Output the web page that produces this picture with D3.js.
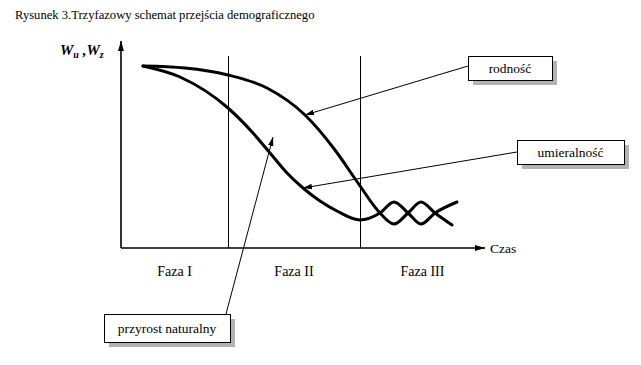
<!DOCTYPE html>
<html>
<head>
<meta charset="utf-8">
<script src="https://cdn.jsdelivr.net/npm/d3@7"></script>
<style>
  body { margin: 0; background: #fff; }
  svg { display: block; }
  text { font-family: "Liberation Serif", "DejaVu Serif", serif; }
</style>
</head>
<body>
<svg id="chart" width="641" height="365"></svg>
<script>
// --- data ---
const title = "Rysunek 3.Trzyfazowy schemat przejścia demograficznego";
const phaseNames = ["Faza I", "Faza II", "Faza III"];
const phaseBounds = [0, 26.75, 59.75, 91];

// rodność (birth rate)
const rodnoscT = [5.5, 16, 26.75, 36.5, 46, 53.5, 59.25, 64.75, 68.25, 71.75, 75, 78.5, 82.75];
const rodnoscV = [91, 90, 86.5, 80, 66.5, 49, 32.5, 17.5, 12, 17.5, 23, 17.5, 11.5];

// umieralność (death rate)
const umieralnoscT = [5.5, 14.75, 26.75, 33, 37.25, 41.5, 45.5, 49.75, 54, 59.75, 64.75, 68.25, 71.75, 75, 78.5, 84];
const umieralnoscV = [91, 85.5, 70, 57.5, 47.5, 37.5, 30, 23.5, 18.5, 14, 17.5, 23, 17.5, 12, 17.5, 23];

// labels with the point they point at (t, v)
const notes = [
  { text: "rodność",            box: [468, 56, 84, 24],   from: [468, 66],  at: [46, 66.5] },
  { text: "umieralność",        box: [517, 140, 107, 24], from: [517, 152], at: [45.5, 30] },
  { text: "przyrost naturalny", box: [104, 314, 126, 28], from: [226, 314], at: [38, 55.5] }
];

const svg = d3.select("#chart");

const x = d3.scaleLinear().domain([0, 91]).range([121, 485]);
const y = d3.scaleLinear().domain([0, 100]).range([248, 48]);

// arrow markers
const defs = svg.append("defs");
defs.append("marker")
  .attr("id", "axisArrow")
  .attr("viewBox", "0 0 10 10")
  .attr("refX", 10).attr("refY", 5)
  .attr("markerWidth", 10).attr("markerHeight", 10)
  .attr("markerUnits", "userSpaceOnUse")
  .attr("orient", "auto")
  .append("path").attr("d", "M0,2 L10,5 L0,8 Z").attr("fill", "#000");
defs.append("marker")
  .attr("id", "noteArrow")
  .attr("viewBox", "0 0 10 10")
  .attr("refX", 10).attr("refY", 5)
  .attr("markerWidth", 9).attr("markerHeight", 9)
  .attr("markerUnits", "userSpaceOnUse")
  .attr("orient", "auto")
  .append("path").attr("d", "M0,2 L10,5 L0,8 Z").attr("fill", "#000");

// title
svg.append("text")
  .attr("x", 15).attr("y", 19)
  .attr("font-size", 12.6)
  .text(title);

// phase separators
svg.selectAll(".phase")
  .data(phaseBounds.slice(1, 3))
  .join("line")
  .attr("class", "phase")
  .attr("x1", d => Math.round(x(d)) + 0.5).attr("x2", d => Math.round(x(d)) + 0.5)
  .attr("y1", y(96)).attr("y2", y(0))
  .attr("stroke", "#000").attr("stroke-width", 1);

// axes
svg.append("line")
  .attr("x1", x(0)).attr("y1", y(0)).attr("x2", x(0)).attr("y2", 41)
  .attr("stroke", "#000").attr("stroke-width", 1.6)
  .attr("marker-end", "url(#axisArrow)");
svg.append("line")
  .attr("x1", x(0)).attr("y1", y(0)).attr("x2", x(91)).attr("y2", y(0))
  .attr("stroke", "#000").attr("stroke-width", 1.6)
  .attr("marker-end", "url(#axisArrow)");

svg.append("text")
  .attr("x", x(91) + 5).attr("y", y(0) + 5)
  .attr("font-size", 13.5)
  .text("Czas");

const ylab = svg.append("text")
  .attr("x", 60).attr("y", 55)
  .attr("font-size", 15)
  .attr("font-weight", "bold")
  .attr("font-style", "italic");
ylab.append("tspan").text("W");
ylab.append("tspan").attr("font-size", 10).attr("dy", 3).text("u");
ylab.append("tspan").attr("dy", -3).text(" ,");
ylab.append("tspan").text("W");
ylab.append("tspan").attr("font-size", 10).attr("dy", 3).text("z");

// phase labels
svg.selectAll(".phaseLabel")
  .data(phaseNames)
  .join("text")
  .attr("class", "phaseLabel")
  .attr("x", (d, i) => (x(phaseBounds[i]) + x(phaseBounds[i + 1])) / 2)
  .attr("y", 276)
  .attr("text-anchor", "middle")
  .attr("font-size", 14)
  .text(d => d);

// curves
const line = d3.line()
  .x(d => x(d[0]))
  .y(d => y(d[1]))
  .curve(d3.curveMonotoneX);

[[rodnoscT, rodnoscV], [umieralnoscT, umieralnoscV]].forEach(([ts, vs]) => {
  svg.append("path")
    .datum(d3.zip(ts, vs))
    .attr("d", line)
    .attr("fill", "none")
    .attr("stroke", "#000")
    .attr("stroke-width", 3)
    .attr("stroke-linecap", "round");
});

// annotation boxes
const g = svg.selectAll(".note").data(notes).join("g").attr("class", "note");
g.append("line")
  .attr("x1", d => d.from[0]).attr("y1", d => d.from[1])
  .attr("x2", d => x(d.at[0])).attr("y2", d => y(d.at[1]))
  .attr("stroke", "#000").attr("stroke-width", 1)
  .attr("marker-end", "url(#noteArrow)");
g.append("rect")
  .attr("x", d => d.box[0] + 5).attr("y", d => d.box[1] + 5)
  .attr("width", d => d.box[2]).attr("height", d => d.box[3])
  .attr("fill", "#b3b3b3");
g.append("rect")
  .attr("x", d => d.box[0] + 0.5).attr("y", d => d.box[1] + 0.5)
  .attr("width", d => d.box[2]).attr("height", d => d.box[3])
  .attr("fill", "#fff").attr("stroke", "#000").attr("stroke-width", 1);
g.append("text")
  .attr("x", d => d.box[0] + d.box[2] / 2)
  .attr("y", d => d.box[1] + d.box[3] / 2 + 4.5)
  .attr("text-anchor", "middle")
  .attr("font-size", 13.5)
  .text(d => d.text);
</script>
</body>
</html>
